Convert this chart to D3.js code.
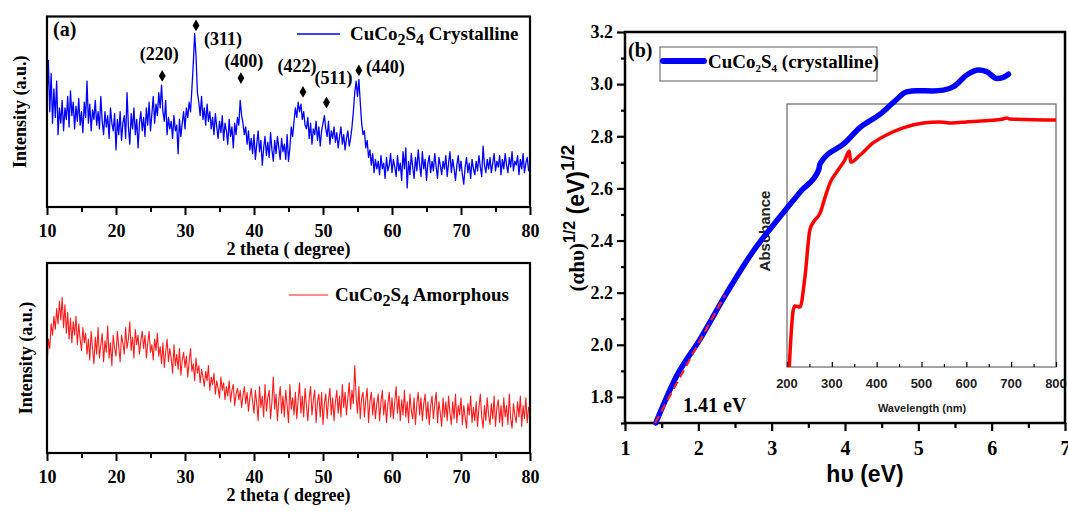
<!DOCTYPE html>
<html>
<head>
<meta charset="utf-8">
<script src="https://cdn.jsdelivr.net/npm/d3@7"></script>
<style>
  body { margin: 0; background: #fff; }
</style>
</head>
<body>
<svg id="chart" width="1068" height="511"></svg>
<script>
// ---- data ----
// XRD patterns, 2 theta from 10 to 80 in steps of 0.2 degree, intensity in arbitrary units (0-100)
const thetaStart = 10, thetaStep = 0.2;
const crystalline = [
  55,77,50,70,44,62,47,66,38,52,
  44,56,40,52,46,58,42,61,48,55,
  41,53,45,57,43,50,39,55,47,66,
  44,54,40,51,46,56,43,50,41,58,
  45,38,50,42,48,36,52,44,40,49,
  30,46,38,50,35,44,48,36,60,42,
  33,49,41,52,38,46,31,44,50,40,
  47,37,52,43,55,40,49,58,44,54,
  48,60,52,64,50,45,56,38,47,41,
  45,36,48,40,43,28,46,37,44,50,
  41,52,47,55,50,62,75,91,79,60,
  55,48,58,46,52,43,54,45,50,41,
  47,38,49,42,36,45,39,48,35,44,
  40,33,46,37,42,31,44,38,47,43,
  56,48,44,38,42,33,40,30,36,28,
  38,25,33,40,29,35,22,31,37,27,
  34,26,39,30,24,35,28,37,31,25,
  36,29,33,25,38,24,31,42,37,45,
  52,47,55,50,54,46,50,43,41,47,
  36,44,33,41,38,45,35,42,32,40,
  44,48,41,37,45,33,40,36,42,34,
  39,31,37,42,33,38,30,36,40,32,
  36,42,50,60,66,58,67,55,44,38,
  40,31,35,26,30,22,28,18,25,20,
  24,17,27,20,23,15,26,19,22,28,
  18,25,21,16,27,19,23,14,29,20,
  31,10,24,17,28,21,15,26,19,30,
  22,16,29,20,25,14,23,27,18,24,
  19,28,21,15,26,22,17,24,20,27,
  16,23,29,18,25,20,14,22,27,19,
  24,17,12,21,26,18,23,15,25,20,
  17,24,19,27,21,16,32,22,18,25,
  20,26,18,23,28,19,24,21,27,17,
  25,20,28,22,18,26,21,29,19,24,
  22,27,17,25,20,28,18,23,26,19,
  21
];
const amorphous = [
  45,60,55,68,62,72,65,76,68,80,
  70,82,66,78,63,74,60,71,58,69,
  62,72,57,68,60,54,66,58,63,52,
  60,49,64,55,47,61,52,66,50,57,
  63,48,59,53,67,50,58,46,62,55,
  51,64,56,48,62,58,52,66,55,60,
  69,54,61,50,65,57,62,52,59,64,
  55,62,50,58,64,53,57,49,60,54,
  63,51,56,47,58,45,53,60,48,55,
  50,42,57,46,52,44,55,41,49,53,
  45,51,40,48,55,43,47,38,50,42,
  46,37,44,40,35,43,38,46,33,40,
  36,42,31,38,34,29,40,33,37,28,
  35,30,38,27,33,36,25,31,34,28,
  33,24,30,35,26,32,22,29,34,27,
  21,33,26,17,35,24,30,19,36,22,
  29,33,18,27,40,23,31,17,28,35,
  21,30,19,33,25,16,36,23,29,20,
  32,18,28,37,21,30,19,34,25,17,
  29,35,20,28,33,16,27,31,19,32,
  15,26,31,18,28,34,20,29,17,27,
  33,21,30,19,36,24,32,20,29,37,
  23,33,26,46,30,21,35,18,29,32,
  19,28,34,16,27,32,20,29,18,26,
  31,17,27,33,20,28,16,26,32,19,
  29,18,27,35,21,30,17,28,20,33,
  19,27,16,31,22,18,29,15,26,32,
  20,29,17,26,31,18,27,15,25,30,
  18,26,32,16,27,21,14,29,19,27,
  17,30,21,15,27,18,31,16,25,20,
  29,15,25,19,13,26,20,30,16,24,
  17,27,14,24,31,19,13,25,17,29,
  20,15,26,18,30,14,24,28,16,25,
  14,29,19,25,15,31,18,13,26,20,
  16,27,19,30,14,25,18,29,16,24,
  24
];
const peakHkl = ['(220)', '(311)', '(400)', '(422)', '(511)', '(440)'];
const peakTheta = [26.7, 31.6, 38.1, 47.1, 50.5, 55.2];
const peakMark = [68.8, 95.3, 67.7, 60.4, 54.8, 71.7];
const xrdTicks = [10, 20, 30, 40, 50, 60, 70, 80];
const xrdMinorTicks = [15, 25, 35, 45, 55, 65, 75];

// Tauc plot
const photonEnergy = [1.42, 1.70, 2.02, 2.39, 2.75, 3.11, 3.40, 3.64, 3.66, 4.00, 4.21, 4.48, 4.68, 4.84, 4.98, 5.20, 5.34, 5.48, 5.66, 5.82, 5.93, 6.07, 6.15, 6.23];
const taucValue = [1.70, 1.878, 2.02, 2.20, 2.36, 2.49, 2.59, 2.67, 2.695, 2.775, 2.835, 2.885, 2.935, 2.97, 2.975, 2.974, 2.977, 2.99, 3.035, 3.054, 3.048, 3.022, 3.025, 3.038];
const fitEnergy = [1.41, 2.36];
const fitTauc = [1.70, 2.19];
const energyTicks = [1, 2, 3, 4, 5, 6, 7];
const energyMinorTicks = [1.5, 2.5, 3.5, 4.5, 5.5, 6.5];
const taucTicks = [1.8, 2.0, 2.2, 2.4, 2.6, 2.8, 3.0, 3.2];
const taucMinorTicks = [1.7, 1.9, 2.1, 2.3, 2.5, 2.7, 2.9, 3.1];

// inset absorbance spectrum
const wavelength = [205, 214, 218, 229, 240, 251, 259, 274, 285, 296, 314, 329, 339, 342, 363, 392, 422, 459, 504, 541, 567, 600, 682, 690, 697, 800];
const absorbance = [0, 0.217, 0.232, 0.228, 0.342, 0.521, 0.551, 0.586, 0.646, 0.700, 0.749, 0.787, 0.821, 0.779, 0.806, 0.852, 0.882, 0.909, 0.928, 0.932, 0.928, 0.932, 0.943, 0.947, 0.943, 0.939];
const wlTicks = [200, 300, 400, 500, 600, 700, 800];
const wlMinorTicks = [250, 350, 450, 550, 650, 750];

const serif = '"Liberation Serif", "Times New Roman", serif';
const sans = '"Liberation Sans", Arial, sans-serif';

const svg = d3.select('#chart');
svg.append('rect').attr('width', 1068).attr('height', 511).attr('fill', '#fff');

// CuCo2S4 with subscripts
function formula(text, subSize, subDy, suffix) {
  text.append('tspan').text('CuCo');
  text.append('tspan').attr('font-size', subSize).attr('dy', subDy).text('2');
  text.append('tspan').attr('dy', -subDy).text('S');
  text.append('tspan').attr('font-size', subSize).attr('dy', subDy).text('4');
  text.append('tspan').attr('dy', -subDy).text(suffix);
}

function styleAxis(g, width, font, size) {
  g.select('.domain').remove();
  g.selectAll('line').attr('stroke', '#000').attr('stroke-width', width);
  g.selectAll('text').attr('fill', '#000').style('font-family', font)
    .style('font-size', size + 'px').style('font-weight', 'bold');
}

// ---- panel (a): XRD ----
const xA = d3.scaleLinear().domain([10, 80]).range([47, 530]);
const yTop = d3.scaleLinear().domain([0, 100]).range([207, 16.5]);
const yBot = d3.scaleLinear().domain([0, 100]).range([453, 263]);

function drawXrd(y, series, color, lw) {
  const g = svg.append('g');
  const pts = series.map((v, i) => [thetaStart + i * thetaStep, v]);
  g.append('path').datum(pts)
    .attr('d', d3.line().x(d => xA(d[0])).y(d => y(d[1])))
    .attr('fill', 'none').attr('stroke', color).attr('stroke-width', lw)
    .attr('stroke-linejoin', 'round');

  const base = y.range()[0];
  g.append('g').attr('transform', `translate(0,${base})`)
    .call(d3.axisBottom(xA).tickValues(xrdMinorTicks).tickSize(5).tickFormat(''))
    .call(s => styleAxis(s, 2, serif, 18));
  g.append('g').attr('transform', `translate(0,${base})`)
    .call(d3.axisBottom(xA).tickValues(xrdTicks).tickSize(8).tickPadding(9))
    .call(s => styleAxis(s, 2, serif, 18));

  g.append('rect')
    .attr('x', xA(10)).attr('y', y(100))
    .attr('width', xA(80) - xA(10)).attr('height', y(0) - y(100))
    .attr('fill', 'none').attr('stroke', '#000').attr('stroke-width', 2.2);

  g.append('text').attr('x', (xA(10) + xA(80)) / 2).attr('y', base + 48)
    .attr('text-anchor', 'middle').style('font-family', serif)
    .style('font-size', '18px').style('font-weight', 'bold').text('2 theta ( degree)');
  return g;
}

const gTop = drawXrd(yTop, crystalline, '#0000ff', 1.3);
const gBot = drawXrd(yBot, amorphous, '#ff1a1a', 1.1);

svg.append('text').attr('transform', `translate(26,${(yTop(0) + yTop(100)) / 2}) rotate(-90)`)
  .attr('text-anchor', 'middle').style('font-family', serif).style('font-size', '18px')
  .style('font-weight', 'bold').text('Intensity (a.u.)');
svg.append('text').attr('transform', `translate(32,${(yBot(0) + yBot(100)) / 2}) rotate(-90)`)
  .attr('text-anchor', 'middle').style('font-family', serif).style('font-size', '18px')
  .style('font-weight', 'bold').text('Intensity (a.u.)');

svg.append('text').attr('x', 53).attr('y', 36).style('font-family', serif)
  .style('font-size', '20px').style('font-weight', 'bold').text('(a)');

// peak markers and hkl labels
const labelOffset = [[-3, -16, 'middle'], [8, 20, 'start'], [3, -11, 'middle'], [-6, -20, 'middle'], [7, -19, 'middle'], [7, 3, 'start']];
peakTheta.forEach((t, i) => {
  const px = xA(t), py = yTop(peakMark[i]);
  gTop.append('path').attr('d', d3.symbol(d3.symbolDiamond).size(40)())
    .attr('transform', `translate(${px},${py})`).attr('fill', '#000');
  gTop.append('text').attr('x', px + labelOffset[i][0]).attr('y', py + labelOffset[i][1])
    .attr('text-anchor', labelOffset[i][2]).style('font-family', serif)
    .style('font-size', '18px').style('font-weight', 'bold').text(peakHkl[i]);
});

// legends panel (a)
gTop.append('line').attr('x1', 297).attr('x2', 340).attr('y1', 34).attr('y2', 34)
  .attr('stroke', '#0000ff').attr('stroke-width', 1.5);
formula(gTop.append('text').attr('x', 350).attr('y', 40).style('font-family', serif)
  .style('font-size', '19px').style('font-weight', 'bold'), '16px', 5, ' Crystalline');

gBot.append('line').attr('x1', 289).attr('x2', 328).attr('y1', 295).attr('y2', 295)
  .attr('stroke', '#ff1a1a').attr('stroke-width', 1);
formula(gBot.append('text').attr('x', 335).attr('y', 301).style('font-family', serif)
  .style('font-size', '19px').style('font-weight', 'bold'), '16px', 5, ' Amorphous');

// ---- panel (b): Tauc plot ----
const xB = d3.scaleLinear().domain([1, 7]).range([625, 1065]);
const yB = d3.scaleLinear().domain([1.7, 3.2]).range([423, 32]);

const gB = svg.append('g');
gB.append('g').attr('transform', 'translate(0,423)')
  .call(d3.axisBottom(xB).tickValues(energyMinorTicks).tickSize(5).tickFormat(''))
  .call(s => styleAxis(s, 2.2, serif, 20));
gB.append('g').attr('transform', 'translate(0,423)')
  .call(d3.axisBottom(xB).tickValues(energyTicks).tickSize(8).tickPadding(10).tickFormat(d3.format('d')))
  .call(s => styleAxis(s, 2.2, serif, 20));
gB.append('g').attr('transform', 'translate(625,0)')
  .call(d3.axisLeft(yB).tickValues(taucMinorTicks).tickSize(4).tickFormat(''))
  .call(s => styleAxis(s, 2.2, serif, 18));
gB.append('g').attr('transform', 'translate(625,0)')
  .call(d3.axisLeft(yB).tickValues(taucTicks).tickSize(8).tickPadding(4).tickFormat(d3.format('.1f')))
  .call(s => styleAxis(s, 2.2, serif, 18));

// inset
const xIn = d3.scaleLinear().domain([200, 800]).range([787, 1056]);
const yIn = d3.scaleLinear().domain([0, 1]).range([367, 104]);
gB.append('rect').attr('x', 787).attr('y', 104).attr('width', 269).attr('height', 263)
  .attr('fill', '#fff').attr('stroke', '#666').attr('stroke-width', 1.2);
gB.append('g').attr('transform', 'translate(0,367)')
  .call(d3.axisTop(xIn).tickValues(wlMinorTicks).tickSize(3).tickFormat(''))
  .call(s => styleAxis(s, 1.2, sans, 13));
gB.append('g').attr('transform', 'translate(0,367)')
  .call(d3.axisTop(xIn).tickValues(wlTicks).tickSize(5).tickFormat(''))
  .call(s => styleAxis(s, 1.2, sans, 13));
gB.append('g').selectAll('text').data(wlTicks).join('text')
  .attr('x', d => xIn(d)).attr('y', 388).attr('text-anchor', 'middle')
  .style('font-family', sans).style('font-size', '13px').style('font-weight', 'bold')
  .attr('fill', '#222').text(d => d);
gB.append('text').attr('x', 922).attr('y', 412).attr('text-anchor', 'middle')
  .style('font-family', sans).style('font-size', '11px').style('font-weight', 'bold')
  .attr('fill', '#222').text('Wavelength (nm)');
gB.append('text').attr('transform', 'translate(770,231) rotate(-90)').attr('text-anchor', 'middle')
  .style('font-family', sans).style('font-size', '15px').style('font-weight', 'bold')
  .attr('fill', '#222').text('Absobance');
gB.append('path').datum(wavelength.map((w, i) => [w, absorbance[i]]))
  .attr('d', d3.line().x(d => xIn(d[0])).y(d => yIn(d[1])).curve(d3.curveMonotoneX))
  .attr('fill', 'none').attr('stroke', '#ff0000').attr('stroke-width', 3.5)
  .attr('stroke-linejoin', 'round');

// frame
gB.append('rect').attr('x', 625).attr('y', 32).attr('width', 440).attr('height', 391)
  .attr('fill', 'none').attr('stroke', '#000').attr('stroke-width', 2.5);

// Tauc curve and linear fit
gB.append('path').datum(photonEnergy.map((e, i) => [e, taucValue[i]]))
  .attr('d', d3.line().x(d => xB(d[0])).y(d => yB(d[1])).curve(d3.curveMonotoneX))
  .attr('fill', 'none').attr('stroke', '#0000ff').attr('stroke-width', 5.5)
  .attr('stroke-linecap', 'round').attr('stroke-linejoin', 'round');
gB.append('path').datum(fitEnergy.map((e, i) => [e, fitTauc[i]]))
  .attr('d', d3.line().x(d => xB(d[0])).y(d => yB(d[1])))
  .attr('fill', 'none').attr('stroke', '#ff2020').attr('stroke-width', 2.2)
  .attr('stroke-dasharray', '8,5');

gB.append('text').attr('x', 683).attr('y', 412).style('font-family', serif)
  .style('font-size', '20px').style('font-weight', 'bold').text('1.41 eV');
gB.append('text').attr('x', 628).attr('y', 57).style('font-family', serif)
  .style('font-size', '20px').style('font-weight', 'bold').text('(b)');

// legend panel (b)
gB.append('rect').attr('x', 660).attr('y', 47).attr('width', 217).attr('height', 34)
  .attr('fill', '#fff').attr('stroke', '#777').attr('stroke-width', 1.2);
gB.append('line').attr('x1', 663).attr('x2', 704).attr('y1', 61).attr('y2', 61)
  .attr('stroke', '#0000ff').attr('stroke-width', 6).attr('stroke-linecap', 'round');
formula(gB.append('text').attr('x', 708).attr('y', 68).style('font-family', serif)
  .style('font-size', '19px').style('font-weight', 'bold'), '11px', 4, ' (crystalline)');

// axis titles panel (b)
gB.append('text').attr('x', 865).attr('y', 482).attr('text-anchor', 'middle')
  .style('font-family', sans).style('font-size', '23px').style('font-weight', 'bold').text('hυ (eV)');
const yTitle = gB.append('text').attr('transform', 'translate(584,218) rotate(-90)')
  .attr('text-anchor', 'middle').style('font-weight', 'bold');
yTitle.append('tspan').style('font-family', serif).style('font-size', '21px').text('(αhυ)');
yTitle.append('tspan').style('font-family', sans).style('font-size', '16px').attr('dy', -9).text('1/2');
yTitle.append('tspan').style('font-family', sans).style('font-size', '23px').attr('dy', 9).text(' (eV)');
yTitle.append('tspan').style('font-family', sans).style('font-size', '19px').attr('dy', -10).text('1/2');
</script>
</body>
</html>
